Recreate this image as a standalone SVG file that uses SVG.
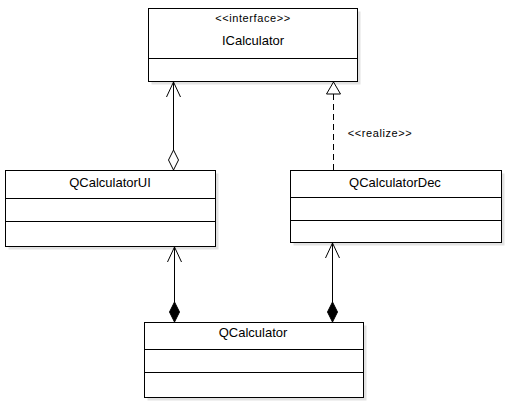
<svg xmlns="http://www.w3.org/2000/svg" width="509" height="404" viewBox="0 0 509 404">
<style>
.shadow{fill:#e2e2e2;stroke:none}
.box{fill:#ffffff;stroke:#000000;stroke-width:1}
.div{stroke:#000000;stroke-width:1}
.name{font-family:"Liberation Sans",Arial,sans-serif;font-size:13px;fill:#000000;text-anchor:middle}
.stereo{font-family:"Liberation Sans",Arial,sans-serif;font-size:11px;letter-spacing:0.6px;fill:#000000;text-anchor:middle}
.line{stroke:#000000;stroke-width:1;fill:none}
.dash{stroke:#000000;stroke-width:1;fill:none;stroke-dasharray:6,4}
.open{stroke:#000000;stroke-width:1;fill:#ffffff}
.filled{stroke:#000000;stroke-width:1;fill:#000000}
</style>
<rect width="509" height="404" fill="#ffffff"/>
<g id="ICalculator">
<rect class="shadow" x="151.5" y="11.5" width="209" height="73"/>
<rect class="box" x="148.5" y="8.5" width="209" height="73"/>
<line class="div" x1="148.5" y1="58.5" x2="357.5" y2="58.5"/>
<text class="stereo" x="253" y="22">&lt;&lt;interface&gt;&gt;</text>
<text class="name" x="253" y="45">ICalculator</text>
</g>
<g id="QCalculatorUI">
<rect class="shadow" x="8.5" y="173.5" width="210" height="76"/>
<rect class="box" x="5.5" y="170.5" width="210" height="76"/>
<line class="div" x1="5.5" y1="198.5" x2="215.5" y2="198.5"/>
<line class="div" x1="5.5" y1="221.5" x2="215.5" y2="221.5"/>
<text class="name" x="110" y="187">QCalculatorUI</text>
</g>
<g id="QCalculatorDec">
<rect class="shadow" x="293.5" y="173.5" width="211" height="72"/>
<rect class="box" x="290.5" y="170.5" width="211" height="72"/>
<line class="div" x1="290.5" y1="197.5" x2="501.5" y2="197.5"/>
<line class="div" x1="290.5" y1="220.5" x2="501.5" y2="220.5"/>
<text class="name" x="395" y="187">QCalculatorDec</text>
</g>
<g id="QCalculator">
<rect class="shadow" x="147.5" y="325.5" width="219" height="75"/>
<rect class="box" x="144.5" y="322.5" width="219" height="75"/>
<line class="div" x1="144.5" y1="349.5" x2="363.5" y2="349.5"/>
<line class="div" x1="144.5" y1="372.5" x2="363.5" y2="372.5"/>
<text class="name" x="253" y="337">QCalculator</text>
</g>
<g id="connectors">
<line class="line" x1="173.5" y1="82" x2="173.5" y2="150"/>
<polyline class="line" points="166.5,97 173.5,82 180.5,97"/>
<polygon class="open" points="173.5,150 178.5,160 173.5,170 168.5,160"/>
<line class="dash" x1="333.5" y1="94" x2="333.5" y2="170"/>
<polygon class="open" points="333.5,82 326.5,94 340.5,94"/>
<text class="stereo" x="380" y="137">&lt;&lt;realize&gt;&gt;</text>
<line class="line" x1="174.5" y1="247" x2="174.5" y2="302"/>
<polyline class="line" points="167.5,262 174.5,247 181.5,262"/>
<polygon class="filled" points="174.5,302 179.5,312 174.5,322 169.5,312"/>
<line class="line" x1="332.5" y1="243" x2="332.5" y2="302"/>
<polyline class="line" points="325.5,258 332.5,243 339.5,258"/>
<polygon class="filled" points="332.5,302 337.5,312 332.5,322 327.5,312"/>
</g>
</svg>
